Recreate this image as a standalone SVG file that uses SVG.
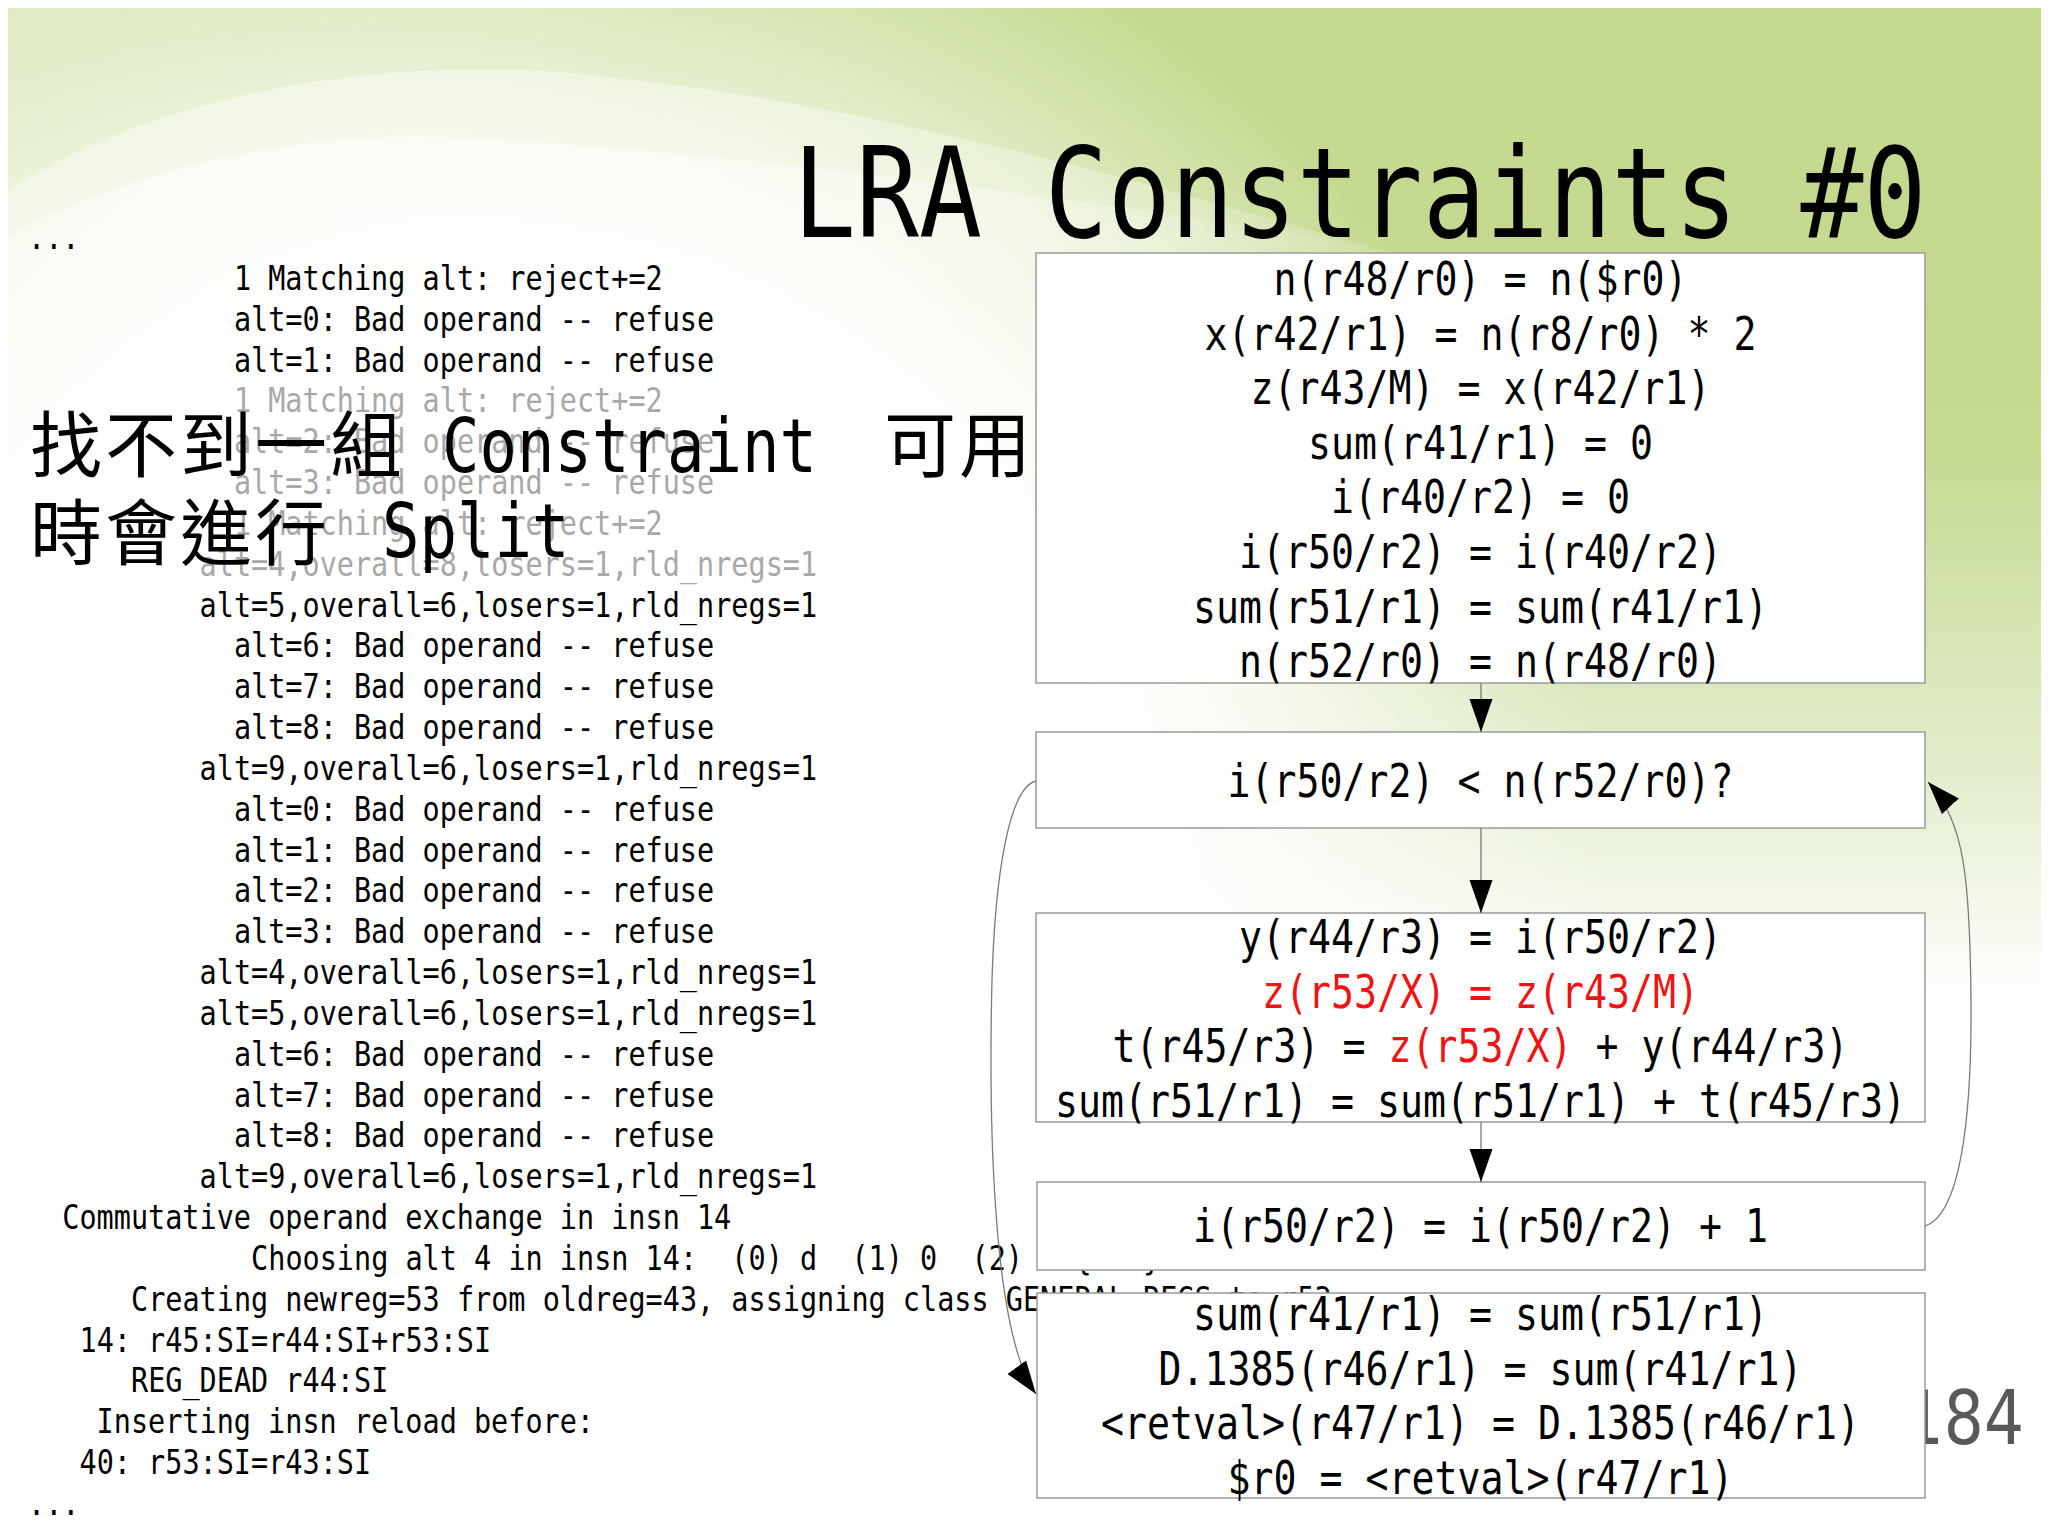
<svg xmlns="http://www.w3.org/2000/svg" width="2048" height="1536" viewBox="0 0 2048 1536">
<style>
.mono{font-family:"DejaVu Sans Mono","Liberation Mono",monospace;white-space:pre}
.log{font-size:28.5px;fill:#000}
.gray{fill:#a8a8a8}
.node rect{fill:#fff;stroke:#9a9a9a;stroke-width:1.5}
.lbl{font-size:38.2px;fill:#000;text-anchor:middle}
.red{fill:#ee1414}
.cjk{font-family:"Noto Sans CJK TC","Noto Sans CJK SC",sans-serif;font-size:72px;letter-spacing:3px;fill:#000}
.edge{fill:none;stroke:#7a7a7a;stroke-width:1.3}
</style>
<defs>
<linearGradient id="gv" gradientUnits="userSpaceOnUse" x1="0" y1="8" x2="0" y2="1000">
<stop offset="0" stop-color="#c3d98d"/>
<stop offset="0.45" stop-color="#c6da92"/>
<stop offset="0.8" stop-color="#e6efd3"/>
<stop offset="1" stop-color="#ffffff"/>
</linearGradient>
<radialGradient id="swA" gradientUnits="userSpaceOnUse" cx="450" cy="300" r="1100">
<stop offset="0" stop-color="#fff" stop-opacity="0.45"/>
<stop offset="0.6" stop-color="#fff" stop-opacity="0.3"/>
<stop offset="1" stop-color="#fff" stop-opacity="0"/>
</radialGradient>
<radialGradient id="swB" gradientUnits="userSpaceOnUse" cx="420" cy="330" r="1000">
<stop offset="0" stop-color="#fff" stop-opacity="0.6"/>
<stop offset="0.6" stop-color="#fff" stop-opacity="0.35"/>
<stop offset="1" stop-color="#fff" stop-opacity="0"/>
</radialGradient>
<radialGradient id="fade" gradientUnits="userSpaceOnUse" cx="520" cy="900" r="1400">
<stop offset="0" stop-color="#fff" stop-opacity="1"/>
<stop offset="0.43" stop-color="#fff" stop-opacity="1"/>
<stop offset="0.6" stop-color="#fff" stop-opacity="0.55"/>
<stop offset="0.78" stop-color="#fff" stop-opacity="0"/>
</radialGradient>
<linearGradient id="tl" gradientUnits="userSpaceOnUse" x1="8" y1="8" x2="500" y2="300">
<stop offset="0" stop-color="#fff" stop-opacity="0.4"/>
<stop offset="1" stop-color="#fff" stop-opacity="0"/>
</linearGradient>
<marker id="ah" markerUnits="userSpaceOnUse" markerWidth="34" markerHeight="24" refX="33" refY="11.5" orient="auto">
<path d="M0,0 L33,11.5 L0,23 Z" fill="#000"/>
</marker>
</defs>

<g id="background">
<rect x="0" y="0" width="2048" height="1536" fill="#fff"/>
<rect x="8" y="8" width="2033" height="992" fill="url(#gv)"/>
<rect x="8" y="8" width="2033" height="992" fill="url(#tl)"/>
<path d="M8,190 C180,80 420,55 600,76 C880,105 1150,185 1400,255 C1650,330 1860,430 2041,540 L2041,1000 L8,1000 Z" fill="url(#swA)"/>
<path d="M8,236 C130,168 300,132 440,137 C700,148 1000,188 1300,234 C1560,280 1820,390 2041,560 L2041,1000 L8,1000 Z" fill="url(#swB)"/>
<rect x="8" y="8" width="2033" height="1528" fill="url(#fade)"/>
</g>

<g id="title">
<text class="mono" x="793" y="197.5" transform="scale(1,1.2)" font-size="104.6">LRA Constraints #0</text>
</g>

<g id="log">
<text class="mono log" transform="scale(1,1.2)" xml:space="preserve"><tspan x="28" y="207.64">...</tspan><tspan x="233.9" y="241.67">1 Matching alt: reject+=2</tspan><tspan x="233.9" y="275.69">alt=0: Bad operand -- refuse</tspan><tspan x="233.9" y="309.72">alt=1: Bad operand -- refuse</tspan><tspan class="gray" x="233.9" y="343.74">1 Matching alt: reject+=2</tspan><tspan class="gray" x="233.9" y="377.77">alt=2: Bad operand -- refuse</tspan><tspan class="gray" x="233.9" y="411.79">alt=3: Bad operand -- refuse</tspan><tspan class="gray" x="233.9" y="445.82">1 Matching alt: reject+=2</tspan><tspan class="gray" x="199.6" y="479.84">alt=4,overall=8,losers=1,rld_nregs=1</tspan><tspan x="199.6" y="513.87">alt=5,overall=6,losers=1,rld_nregs=1</tspan><tspan x="233.9" y="547.89">alt=6: Bad operand -- refuse</tspan><tspan x="233.9" y="581.92">alt=7: Bad operand -- refuse</tspan><tspan x="233.9" y="615.94">alt=8: Bad operand -- refuse</tspan><tspan x="199.6" y="649.97">alt=9,overall=6,losers=1,rld_nregs=1</tspan><tspan x="233.9" y="683.99">alt=0: Bad operand -- refuse</tspan><tspan x="233.9" y="718.02">alt=1: Bad operand -- refuse</tspan><tspan x="233.9" y="752.04">alt=2: Bad operand -- refuse</tspan><tspan x="233.9" y="786.07">alt=3: Bad operand -- refuse</tspan><tspan x="199.6" y="820.09">alt=4,overall=6,losers=1,rld_nregs=1</tspan><tspan x="199.6" y="854.12">alt=5,overall=6,losers=1,rld_nregs=1</tspan><tspan x="233.9" y="888.14">alt=6: Bad operand -- refuse</tspan><tspan x="233.9" y="922.17">alt=7: Bad operand -- refuse</tspan><tspan x="233.9" y="956.19">alt=8: Bad operand -- refuse</tspan><tspan x="199.6" y="990.22">alt=9,overall=6,losers=1,rld_nregs=1</tspan><tspan x="62.3" y="1024.24">Commutative operand exchange in insn 14</tspan><tspan x="251.1" y="1058.27">Choosing alt 4 in insn 14:  (0) d  (1) 0  (2) r {add}</tspan><tspan x="131" y="1092.29">Creating newreg=53 from oldreg=43, assigning class GENERAL_REGS to r53</tspan><tspan x="79.5" y="1126.32">14: r45:SI=r44:SI+r53:SI</tspan><tspan x="131" y="1160.34">REG_DEAD r44:SI</tspan><tspan x="96.6" y="1194.37">Inserting insn reload before:</tspan><tspan x="79.5" y="1228.39">40: r53:SI=r43:SI</tspan><tspan x="28" y="1262.42">...</tspan></text>
</g>

<g id="overlay">
<text class="cjk" x="30" y="471">找不到一組</text>
<text class="mono" x="442" y="393.3" transform="scale(1,1.2)" font-size="62.3">Constraint</text>
<text class="cjk" x="884" y="471">可用</text>
<text class="cjk" x="30" y="559">時會進行</text>
<text class="mono" x="382" y="464.5" transform="scale(1,1.2)" font-size="62.3">Split</text>
</g>

<g id="page-number">
<text x="2024" y="1203.3" transform="scale(1,1.2)" font-family="DejaVu Sans, sans-serif" font-size="63" fill="#595959" text-anchor="end">184</text>
</g>

<g id="n1" class="node">
<rect x="1036" y="253" width="889" height="430"/>
<text class="mono lbl" transform="scale(1,1.2)"><tspan x="1480.5" y="245.83">n(r48/r0) = n($r0)</tspan><tspan x="1480.5" y="291.33">x(r42/r1) = n(r8/r0) * 2</tspan><tspan x="1480.5" y="336.83">z(r43/M) = x(r42/r1)</tspan><tspan x="1480.5" y="382.33">sum(r41/r1) = 0</tspan><tspan x="1480.5" y="427.83">i(r40/r2) = 0</tspan><tspan x="1480.5" y="473.33">i(r50/r2) = i(r40/r2)</tspan><tspan x="1480.5" y="518.83">sum(r51/r1) = sum(r41/r1)</tspan><tspan x="1480.5" y="564.33">n(r52/r0) = n(r48/r0)</tspan></text>
</g>

<g id="n2" class="node">
<rect x="1036" y="732" width="889" height="96"/>
<text class="mono lbl" transform="scale(1,1.2)" x="1480.5" y="664.17">i(r50/r2) &lt; n(r52/r0)?</text>
</g>

<g id="n3" class="node">
<rect x="1036" y="913" width="889" height="209"/>
<text class="mono lbl" transform="scale(1,1.2)"><tspan x="1480.5" y="794.17">y(r44/r3) = i(r50/r2)</tspan><tspan class="red" x="1480.5" y="839.67">z(r53/X) = z(r43/M)</tspan><tspan x="1480.5" y="885.17">t(r45/r3) = <tspan class="red">z(r53/X)</tspan> + y(r44/r3)</tspan><tspan x="1480.5" y="930.67">sum(r51/r1) = sum(r51/r1) + t(r45/r3)</tspan></text>
</g>

<g id="n4" class="node">
<rect x="1037" y="1182" width="888" height="88"/>
<text class="mono lbl" transform="scale(1,1.2)" x="1480.5" y="1035">i(r50/r2) = i(r50/r2) + 1</text>
</g>

<g id="n5" class="node">
<rect x="1037" y="1293" width="888" height="205"/>
<text class="mono lbl" transform="scale(1,1.2)"><tspan x="1480.5" y="1108.33">sum(r41/r1) = sum(r51/r1)</tspan><tspan x="1480.5" y="1153.83">D.1385(r46/r1) = sum(r41/r1)</tspan><tspan x="1480.5" y="1199.33">&lt;retval&gt;(r47/r1) = D.1385(r46/r1)</tspan><tspan x="1480.5" y="1244.83">$r0 = &lt;retval&gt;(r47/r1)</tspan></text>
</g>

<g id="connectors">
<path class="edge" d="M1481,683 L1481,732" marker-end="url(#ah)"/>
<path class="edge" d="M1481,828 L1481,913" marker-end="url(#ah)"/>
<path class="edge" d="M1481,1122 L1481,1182" marker-end="url(#ah)"/>
<path class="edge" d="M1925,1226 C1960,1215 1972,1120 1971,1000 C1970,880 1965,822 1928,782" marker-end="url(#ah)"/>
<path class="edge" d="M1036,781 C1008,788 995,880 992,980 C989,1100 990,1330 1036,1394" marker-end="url(#ah)"/>
</g>
</svg>
